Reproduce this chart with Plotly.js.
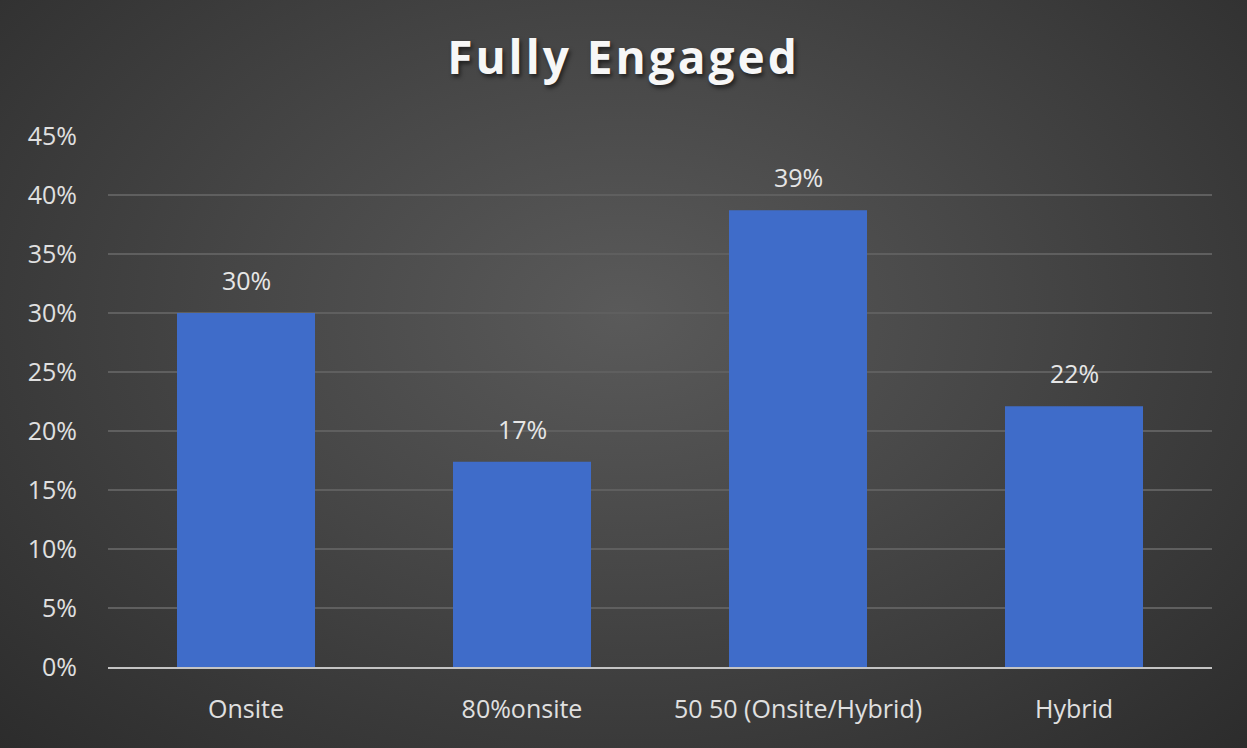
<!DOCTYPE html>
<html>
<head>
<meta charset="utf-8">
<script src="https://cdn.plot.ly/plotly-3.0.1.min.js"></script>
<style>
  html, body { margin: 0; padding: 0; }
  body { width: 1247px; height: 748px; overflow: hidden;
    background: radial-gradient(ellipse at 50% 42%, #5a5a5a 0%, #484848 40%, #2c2c2c 100%); }
  #chart { width: 1247px; height: 748px; }
  .gtitle { letter-spacing: 3px; }
</style>
</head>
<body>
<div id="chart"></div>
<script>
const categories = ["Onsite", "80%onsite", "50 50 (Onsite/Hybrid)", "Hybrid"];
const values = [0.30, 0.174, 0.387, 0.221];
const valueLabels = ["30%", "17%", "39%", "22%"];
const tickVals = [0, 0.05, 0.10, 0.15, 0.20, 0.25, 0.30, 0.35, 0.40, 0.45];
const tickText = ["0%", "5%", "10%", "15%", "20%", "25%", "30%", "35%", "40%", "45%"];

const font = "'Open Sans', Lato, sans-serif";

const trace = {
  type: "bar",
  x: categories,
  y: values,
  marker: { color: "#3f6cc9", line: { width: 0 } },
  hoverinfo: "none"
};

const annotations = categories.map((c, i) => ({
  x: c, y: values[i], text: valueLabels[i], showarrow: false,
  yanchor: "bottom", yshift: 14,
  font: { family: font, size: 25, color: "#e6e6e6" }
}));

const layout = {
  width: 1247, height: 748,
  paper_bgcolor: "rgba(0,0,0,0)",
  plot_bgcolor: "rgba(0,0,0,0)",
  margin: { l: 108, r: 35, t: 136, b: 81 },
  title: { text: "<b>Fully Engaged</b>", x: 0.5, xanchor: "center", y: 0.922, yanchor: "middle",
    font: { family: font, size: 46, color: "#f7f7f7", shadow: "2px 3px 4px rgba(0,0,0,0.55)" } },
  bargap: 0.5,
  showlegend: false,
  xaxis: {
    tickfont: { family: font, size: 25, color: "#e0e0e0" },
    showline: true, linecolor: "#c4c4c4", linewidth: 2,
    ticks: "", showgrid: false, zeroline: false,
    ticklabelstandoff: 19
  },
  yaxis: {
    range: [0, 0.45],
    tickvals: tickVals, ticktext: tickText,
    tickfont: { family: font, size: 25, color: "#e0e0e0" },
    showgrid: true, gridcolor: "#5f5f5f", gridwidth: 1.5,
    zeroline: false, showline: false, ticks: "",
    ticklabelstandoff: 30
  },
  annotations: annotations
};

Plotly.newPlot("chart", [trace], layout, { displayModeBar: false, staticPlot: true });
</script>
</body>
</html>
